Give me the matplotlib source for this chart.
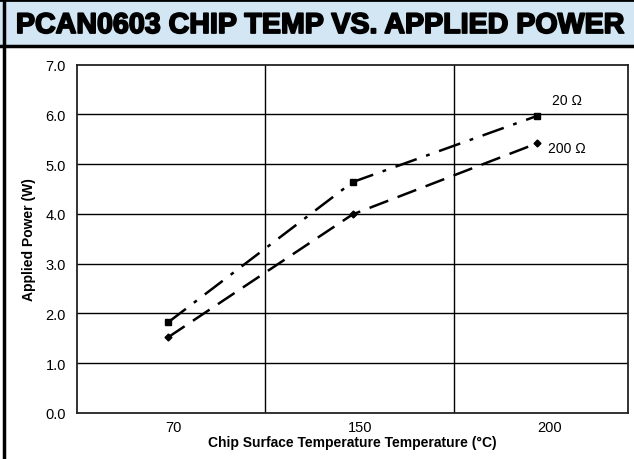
import matplotlib
matplotlib.use("Agg")
import matplotlib.pyplot as plt
import matplotlib.patheffects as pe
from matplotlib.lines import Line2D
from matplotlib.patches import Rectangle

# ---- data ----
categories = ["70", "150", "200"]
power_20 = [1.82, 4.64, 5.97]
power_200 = [1.52, 3.99, 5.42]
series_labels = ["20 \u03a9", "200 \u03a9"]
yticks = [0.0, 1.0, 2.0, 3.0, 4.0, 5.0, 6.0, 7.0]
title = "PCAN0603 CHIP TEMP VS. APPLIED POWER"
xlabel = "Chip Surface Temperature Temperature (\u00b0C)"
ylabel = "Applied Power (W)"

W, H = 634, 460
fig = plt.figure(figsize=(W / 100, H / 100), dpi=100)
fig.patch.set_facecolor("white")

plt.rcParams["font.family"] = ["Liberation Sans", "DejaVu Sans"]

# title band
band = Rectangle((0, 1 - 47 / H), 1, 47 / H, transform=fig.transFigure,
                 facecolor="#d2e6f3", edgecolor="none", zorder=0)
fig.patches.append(band)
fig.add_artist(Line2D([0, 1], [1 - 1 / H, 1 - 1 / H], transform=fig.transFigure,
                      color="black", lw=2))
fig.add_artist(Line2D([0, 1], [1 - 47 / H, 1 - 47 / H], transform=fig.transFigure,
                      color="black", lw=2.5))
fig.add_artist(Line2D([4 / W, 4 / W], [0, 1], transform=fig.transFigure,
                      color="black", lw=2.5))
fig.text(320 / W, 1 - 26 / H, title, ha="center", va="center",
         fontsize=20.6, fontweight="bold", family=["Liberation Sans", "DejaVu Sans"],
         color="black",
         path_effects=[pe.withStroke(linewidth=1.3, foreground="black")])

# axes
left, right, top, bottom = 77, 628, 65.7, 414
ax = fig.add_axes([left / W, 1 - bottom / H, (right - left) / W, (bottom - top) / H])
x = list(range(len(categories)))
ax.set_xlim(-0.493, 2.493)
ax.set_ylim(0, 7)

ax.plot(x, power_20, color="black", lw=1.8, dashes=[9, 4, 1.5, 4],
        marker="s", markersize=4.5, zorder=3)
ax.plot(x, power_200, color="black", lw=1.8, dashes=[8, 4],
        marker="D", markersize=3.5, zorder=3)

ax.text(x[2] + 0.16, power_20[2] + 0.32, series_labels[0], fontsize=10,
        ha="center", va="center")
ax.text(x[2] + 0.16, power_200[2] - 0.1, series_labels[1], fontsize=10,
        ha="center", va="center")

# grid
for yv in yticks[1:-1]:
    ax.axhline(yv, color="black", lw=1.0, zorder=1)
for xv in [0.527, 1.55]:
    ax.axvline(xv, color="black", lw=1.0, zorder=1)

for s in ax.spines.values():
    s.set_linewidth(1.3)
    s.set_color("#222222")

ax.set_yticks(yticks)
ax.set_yticklabels([f"{v:.1f}" for v in yticks], fontsize=10.5)
ax.set_xticks([0.03, 1.04, 2.07])
ax.set_xticklabels(categories, fontsize=10.5)
ax.tick_params(length=0, pad=5)
ax.tick_params(axis="y", pad=8)

ax.set_xlabel(xlabel, fontsize=10, fontweight="bold", labelpad=1)
ax.set_ylabel(ylabel, fontsize=10, fontweight="bold", labelpad=7)

fig.savefig("out.png", dpi=100)
